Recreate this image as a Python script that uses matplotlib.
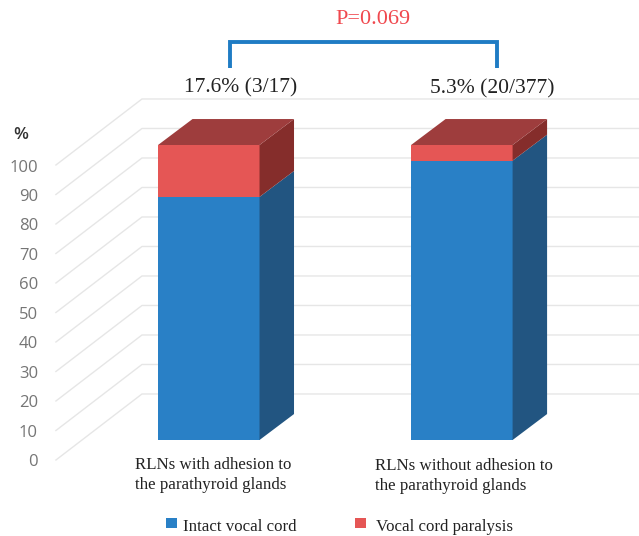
import numpy as np
import matplotlib
matplotlib.use("Agg")
import matplotlib.pyplot as plt
from matplotlib.patches import Polygon, Rectangle

categories = ["RLNs with adhesion to\nthe parathyroid glands",
              "RLNs without adhesion to\nthe parathyroid glands"]
intact = [82.4, 94.7]
paralysis = [17.6, 5.3]
top_labels = ["17.6% (3/17)", "5.3% (20/377)"]
ticks = [0, 10, 20, 30, 40, 50, 60, 70, 80, 90, 100]
series_names = ["Intact vocal cord", "Vocal cord paralysis"]
p_label = "P=0.069"

W, H = 639, 536
BLUE = ("#2980C6", "#225581")
RED = ("#E55655", "#852D2B")
RED_TOP = "#9E3D3D"
SERIF = "Liberation Serif"

fig = plt.figure(figsize=(W / 100, H / 100), dpi=100)
ax = fig.add_axes([0, 0, 1, 1])
ax.axis("off")

# x is category position, y is percent; limits give 253 px per category, 2.95 px per %
ax.set_xlim(-0.825, 1.7)
ax.set_ylim(-32.54, 149.15)

# figure pixels, origin top left, for the annotations
px = matplotlib.transforms.Affine2D().scale(1, -1).translate(0, H)

bar_w = 0.401
depth_x, depth_y = 0.1363, 8.8

# floor/wall gridlines
for t in ticks:
    ax.plot([-0.604, -0.264, 1.7], [t - 6.78, t + 15.6, t + 15.6],
            color="#E6E6E6", lw=1.0, zorder=1)
    ax.text(38, 462 - t * 2.945, str(t), transform=px, ha="right", va="center",
            family="Open Sans", fontsize=12, color="#757575")
ax.text(21, 135, "%", transform=px, ha="center", va="center",
        family="Open Sans", fontsize=12.5, color="#333333", weight="semibold")


def box(x, y0, y1, colors, top=None):
    left, right = x - bar_w / 2, x + bar_w / 2
    ax.add_patch(Rectangle((left, y0), bar_w, y1 - y0, fc=colors[0], ec="none", zorder=3))
    side = [(right, y0), (right + depth_x, y0 + depth_y),
            (right + depth_x, y1 + depth_y), (right, y1)]
    ax.add_patch(Polygon(side, fc=colors[1], ec="none", zorder=3))
    if top:
        lid = [(left, y1), (left + depth_x, y1 + depth_y),
               (right + depth_x, y1 + depth_y), (right, y1)]
        ax.add_patch(Polygon(lid, fc=top, ec="none", zorder=3))


for i in range(len(categories)):
    box(i, 0, intact[i], BLUE)
    box(i, intact[i], intact[i] + paralysis[i], RED, top=RED_TOP)

# significance bracket
ax.plot([230, 230, 497, 497], [68, 42, 42, 68], transform=px, color="#1F7CC4",
        lw=2.8, solid_joinstyle="miter", solid_capstyle="butt", zorder=4)
ax.text(373, 20, p_label, transform=px, ha="center", va="center",
        family=SERIF, fontsize=16, color="#F0484E")

ax.text(241, 88, top_labels[0], transform=px, ha="center", va="center",
        family=SERIF, fontsize=15.5, color="#222222")
ax.text(492, 89, top_labels[1], transform=px, ha="center", va="center",
        family=SERIF, fontsize=15.5, color="#222222")

ax.text(135, 475, categories[0], transform=px, ha="left", va="center",
        family=SERIF, fontsize=12.2, color="#222222", linespacing=1.3)
ax.text(375, 476, categories[1], transform=px, ha="left", va="center",
        family=SERIF, fontsize=12.2, color="#222222", linespacing=1.3)

# legend
ax.add_patch(Rectangle((166, 518), 11, 10, transform=px, fc=BLUE[0], ec="none"))
ax.text(183, 527, series_names[0], transform=px, ha="left", va="center",
        family=SERIF, fontsize=12.2, color="#222222")
ax.add_patch(Rectangle((355, 518), 11, 10, transform=px, fc=RED[0], ec="none"))
ax.text(376, 527, series_names[1], transform=px, ha="left", va="center",
        family=SERIF, fontsize=12.2, color="#222222")

fig.savefig("out.png", dpi=100)
